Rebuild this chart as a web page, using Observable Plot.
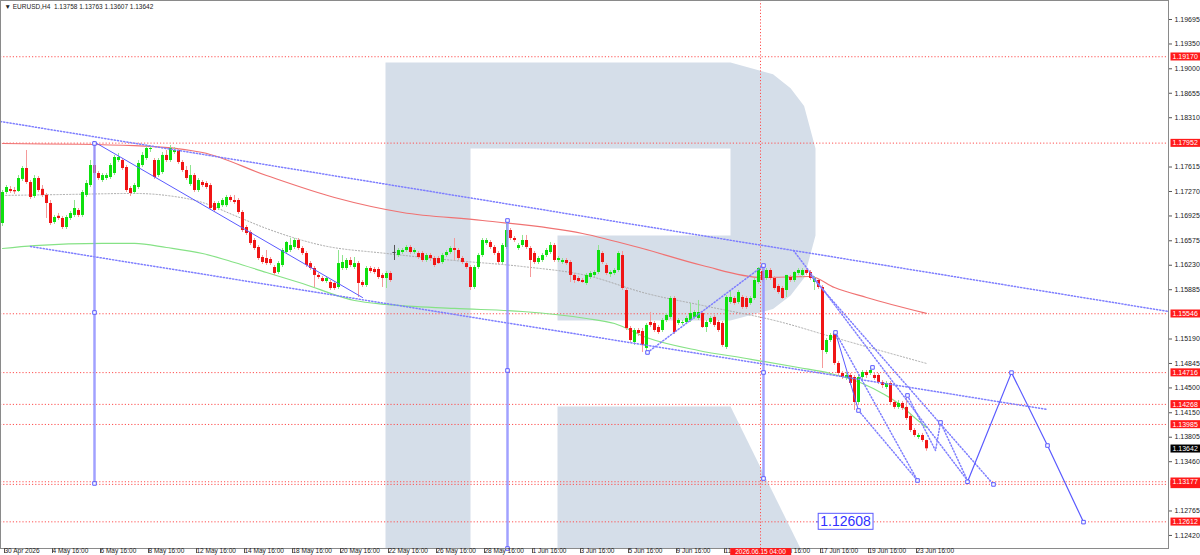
<!DOCTYPE html>
<html><head><meta charset="utf-8">
<script src="https://cdn.jsdelivr.net/npm/d3@7"></script>
<script src="https://cdn.jsdelivr.net/npm/@observablehq/plot@0.6"></script>
<style>
html,body{margin:0;padding:0;background:#fff;}
svg{display:block}
</style></head><body><div id="chart"></div>
<script>
// ---------- DATA ----------
const symbol = "EURUSD,H4";
// H4 candles [open, high, low, close], bar 0 = 30 Apr 2026 16:00
const candles = [
[1.16819,1.17284,1.16776,1.17256],[1.17256,1.17354,1.17228,1.17326],[1.17298,1.17340,1.17242,1.17270],[1.17284,1.17326,1.17228,1.17265],
[1.17270,1.17495,1.17256,1.17453],[1.17440,1.17622,1.17411,1.17594],[1.17594,1.17848,1.17369,1.17397],[1.17397,1.17425,1.17157,1.17185],
[1.17199,1.17495,1.17171,1.17453],[1.17453,1.17481,1.17256,1.17284],[1.17300,1.17354,1.17185,1.17214],[1.17214,1.17242,1.16889,1.17101],
[1.17101,1.17143,1.16790,1.16819],[1.16833,1.16932,1.16805,1.16903],[1.16920,1.16960,1.16861,1.16889],[1.16889,1.16917,1.16734,1.16762],
[1.16762,1.16932,1.16734,1.16903],[1.16889,1.16988,1.16861,1.16960],[1.16932,1.17143,1.16903,1.17030],[1.17002,1.17030,1.16903,1.16932],
[1.16932,1.17284,1.16903,1.17256],[1.17214,1.17425,1.17185,1.17383],[1.17354,1.17707,1.17326,1.17636],[1.17636,1.17975,1.17495,1.17524],
[1.17524,1.17552,1.17425,1.17453],[1.17425,1.17524,1.17397,1.17495],[1.17453,1.17524,1.17425,1.17495],[1.17467,1.17665,1.17439,1.17636],
[1.17524,1.17778,1.17495,1.17749],[1.17707,1.17806,1.17679,1.17749],[1.17707,1.17735,1.17566,1.17594],[1.17608,1.17636,1.17256,1.17284],
[1.17312,1.17340,1.17199,1.17242],[1.17256,1.17383,1.17228,1.17354],[1.17326,1.17707,1.17298,1.17665],[1.17636,1.17820,1.17608,1.17778],
[1.17735,1.17918,1.17707,1.17876],[1.17862,1.17904,1.17820,1.17876],[1.17707,1.17735,1.17439,1.17467],[1.17495,1.17735,1.17467,1.17707],
[1.17538,1.17820,1.17510,1.17778],[1.17778,1.17848,1.17679,1.17707],[1.17707,1.17918,1.17679,1.17876],[1.17820,1.17890,1.17792,1.17848],
[1.17848,1.17876,1.17651,1.17679],[1.17679,1.17707,1.17538,1.17566],[1.17566,1.17622,1.17425,1.17453],[1.17369,1.17636,1.17340,1.17495],
[1.17495,1.17524,1.17256,1.17284],[1.17284,1.17453,1.17256,1.17425],[1.17397,1.17425,1.17326,1.17354],[1.17383,1.17411,1.17298,1.17326],
[1.17354,1.17383,1.17002,1.17030],[1.17101,1.17129,1.16974,1.17002],[1.17030,1.17129,1.17002,1.17101],[1.17071,1.17171,1.17044,1.17143],
[1.17071,1.17214,1.17044,1.17185],[1.17185,1.17214,1.17115,1.17143],[1.17143,1.17214,1.17087,1.17115],[1.17143,1.17171,1.16946,1.16974],
[1.16974,1.17002,1.16692,1.16720],[1.16762,1.16790,1.16650,1.16678],[1.16692,1.16720,1.16509,1.16537],[1.16579,1.16607,1.16438,1.16466],
[1.16480,1.16508,1.16297,1.16325],[1.16339,1.16367,1.16240,1.16269],[1.16325,1.16438,1.16226,1.16254],[1.16311,1.16339,1.16226,1.16254],
[1.16198,1.16226,1.16085,1.16114],[1.16128,1.16283,1.16099,1.16254],[1.16226,1.16466,1.16198,1.16438],[1.16409,1.16565,1.16381,1.16551],
[1.16438,1.16607,1.16409,1.16508],[1.16480,1.16607,1.16452,1.16579],[1.16579,1.16607,1.16438,1.16466],[1.16466,1.16494,1.16367,1.16396],
[1.16396,1.16424,1.16198,1.16226],[1.16254,1.16283,1.16156,1.16184],[1.16184,1.16212,1.15916,1.16086],[1.16086,1.16114,1.16029,1.16057],
[1.16043,1.16071,1.15987,1.16001],[1.16001,1.16071,1.15973,1.16043],[1.15987,1.16015,1.15874,1.15902],[1.15973,1.16001,1.15874,1.15902],
[1.15916,1.16438,1.15888,1.16254],[1.16184,1.16367,1.16156,1.16269],[1.16184,1.16325,1.16156,1.16297],[1.16297,1.16339,1.16198,1.16226],
[1.16198,1.16339,1.16170,1.16254],[1.16254,1.16283,1.15775,1.15973],[1.15987,1.16015,1.15916,1.15944],[1.15944,1.16212,1.15916,1.16184],
[1.16184,1.16212,1.16113,1.16142],[1.16170,1.16198,1.16099,1.16128],[1.16170,1.16198,1.16029,1.16057],[1.16086,1.16114,1.15916,1.16043],
[1.16043,1.16142,1.15902,1.16114],[1.16114,1.16142,1.15987,1.16015],[1.16410,1.16509,1.16297,1.16410],[1.16367,1.16466,1.16339,1.16438],
[1.16410,1.16466,1.16381,1.16438],[1.16438,1.16508,1.16409,1.16480],[1.16480,1.16508,1.16381,1.16410],[1.16410,1.16466,1.16381,1.16438],
[1.16396,1.16424,1.16311,1.16339],[1.16396,1.16424,1.16269,1.16297],[1.16297,1.16396,1.16269,1.16367],[1.16367,1.16396,1.16283,1.16325],
[1.16325,1.16353,1.16198,1.16226],[1.16325,1.16353,1.16240,1.16254],[1.16269,1.16396,1.16240,1.16367],[1.16367,1.16438,1.16339,1.16410],
[1.16410,1.16494,1.16381,1.16466],[1.16466,1.16607,1.16297,1.16438],[1.16438,1.16466,1.16297,1.16325],[1.16325,1.16353,1.16240,1.16269],
[1.16254,1.16283,1.16170,1.16198],[1.16198,1.16226,1.15874,1.15916],[1.15916,1.16226,1.15888,1.16198],[1.16198,1.16396,1.16170,1.16367],
[1.16367,1.16607,1.16339,1.16579],[1.16537,1.16607,1.16508,1.16579],[1.16551,1.16579,1.16452,1.16480],[1.16480,1.16508,1.16367,1.16396],
[1.16396,1.16424,1.16240,1.16269],[1.16269,1.16537,1.16240,1.16508],[1.16480,1.16861,1.16452,1.16720],[1.16720,1.16748,1.16579,1.16607],
[1.16607,1.16635,1.16551,1.16579],[1.16466,1.16537,1.16438,1.16508],[1.16508,1.16650,1.16480,1.16579],[1.16579,1.16650,1.16452,1.16480],
[1.16466,1.16494,1.16057,1.16297],[1.16396,1.16424,1.16240,1.16269],[1.16269,1.16353,1.16240,1.16325],[1.16297,1.16396,1.16269,1.16367],
[1.16367,1.16466,1.16339,1.16438],[1.16410,1.16551,1.16381,1.16508],[1.16508,1.16537,1.16269,1.16297],[1.16297,1.16353,1.16269,1.16325],
[1.16269,1.16325,1.16240,1.16297],[1.16297,1.16325,1.16226,1.16254],[1.16269,1.16297,1.15987,1.16086],[1.16086,1.16114,1.15973,1.16015],
[1.16043,1.16071,1.15987,1.16001],[1.16015,1.16043,1.15973,1.15987],[1.15973,1.16114,1.15944,1.16086],[1.16057,1.16142,1.16029,1.16114],
[1.16086,1.16156,1.16057,1.16128],[1.16128,1.16508,1.16099,1.16438],[1.16396,1.16424,1.16240,1.16269],[1.16226,1.16254,1.16085,1.16114],
[1.16099,1.16156,1.16057,1.16128],[1.16114,1.16184,1.16085,1.16156],[1.16156,1.16424,1.16128,1.16396],[1.16367,1.16424,1.15874,1.15902],
[1.15874,1.15902,1.15310,1.15338],[1.15338,1.15366,1.15141,1.15169],[1.15141,1.15338,1.15099,1.15310],[1.15310,1.15338,1.15226,1.15268],
[1.15296,1.15338,1.15000,1.15099],[1.15057,1.15409,1.15000,1.15381],[1.15423,1.15564,1.15352,1.15381],[1.15409,1.15437,1.15282,1.15310],
[1.15352,1.15381,1.15254,1.15282],[1.15310,1.15479,1.15282,1.15451],[1.15451,1.15550,1.15423,1.15522],[1.15494,1.15789,1.15466,1.15761],
[1.15761,1.15789,1.15254,1.15282],[1.15409,1.15479,1.15381,1.15451],[1.15409,1.15451,1.15381,1.15423],[1.15423,1.15508,1.15395,1.15479],
[1.15451,1.15691,1.15423,1.15550],[1.15494,1.15592,1.15466,1.15564],[1.15479,1.15733,1.15451,1.15564],[1.15550,1.15578,1.15338,1.15352],
[1.15352,1.15451,1.15282,1.15423],[1.15423,1.15508,1.15395,1.15479],[1.15494,1.15522,1.15352,1.15381],[1.15423,1.15451,1.15282,1.15310],
[1.15409,1.15437,1.15071,1.15099],[1.15071,1.15803,1.15042,1.15775],[1.15705,1.15874,1.15677,1.15775],[1.15761,1.15789,1.15663,1.15691],
[1.15705,1.15874,1.15677,1.15846],[1.15775,1.15803,1.15607,1.15635],[1.15761,1.15789,1.15607,1.15635],[1.15691,1.15789,1.15663,1.15761],
[1.15761,1.16043,1.15733,1.16015],[1.15987,1.16198,1.15959,1.16184],[1.16142,1.16226,1.15987,1.16015],[1.16043,1.16184,1.16015,1.16156],
[1.16156,1.16184,1.16015,1.16043],[1.16043,1.16071,1.15874,1.15902],[1.15930,1.15959,1.15818,1.15846],[1.15902,1.15930,1.15747,1.15761],
[1.15874,1.16086,1.15775,1.16086],[1.16057,1.16085,1.15987,1.16015],[1.16015,1.16142,1.15987,1.16128],[1.16114,1.16184,1.16085,1.16156],
[1.16086,1.16184,1.16057,1.16156],[1.16156,1.16184,1.16085,1.16114],[1.16128,1.16156,1.16015,1.16043],[1.15987,1.16071,1.15874,1.16043],
[1.16015,1.16043,1.15888,1.15916],[1.15916,1.15944,1.14774,1.15028],[1.15000,1.15197,1.14972,1.15169],[1.15169,1.15268,1.15141,1.15240],
[1.15268,1.15282,1.14817,1.14845],[1.14845,1.14873,1.14675,1.14704],[1.14704,1.14732,1.14619,1.14647],[1.14633,1.14718,1.14605,1.14675],
[1.14675,1.14704,1.14534,1.14563],[1.14647,1.14675,1.14182,1.14295],[1.14295,1.14675,1.14267,1.14647],[1.14647,1.14746,1.14605,1.14718],
[1.14718,1.14746,1.14633,1.14675],[1.14704,1.14789,1.14675,1.14746],[1.14675,1.14704,1.14605,1.14633],[1.14675,1.14704,1.14548,1.14577],
[1.14577,1.14605,1.14492,1.14534],[1.14506,1.14591,1.14478,1.14563],[1.14563,1.14591,1.14267,1.14295],[1.14295,1.14323,1.14196,1.14225],
[1.14225,1.14323,1.14196,1.14281],[1.14281,1.14309,1.14182,1.14211],[1.14225,1.14394,1.14041,1.14069],[1.14097,1.14126,1.13872,1.13900],
[1.13900,1.13928,1.13801,1.13829],[1.13801,1.13858,1.13773,1.13829],[1.13829,1.13858,1.13731,1.13759],[1.13758,1.13763,1.13607,1.13642]
];
// time axis: bar index of each label and its text
const xTickBars = [0,12,24,36,48,60,72,84,96,108,120,132,144,156,168,180,192,204,216,228];
const xTickLabels = ["30 Apr 2026","4 May 16:00","6 May 16:00","8 May 16:00","12 May 16:00","14 May 16:00","18 May 16:00","20 May 16:00","22 May 16:00","26 May 16:00","28 May 16:00","1 Jun 16:00","3 Jun 16:00","5 Jun 16:00","9 Jun 16:00","11 Jun 16:00","15 Jun 16:00","17 Jun 16:00","19 Jun 16:00","23 Jun 16:00"];
// price axis
const yTicks = [1.19695,1.19350,1.19000,1.18655,1.18310,1.17615,1.17270,1.16925,1.16575,1.16230,1.15885,1.15190,1.14845,1.14500,1.14150,1.13805,1.13460,1.12765,1.12420];
// horizontal levels (red dotted); the 1.13140 label sits behind the 1.13177 one
const levels = [1.19170,1.17952,1.15546,1.14716,1.14268,1.13985,1.13140,1.13177,1.12612];
const hiddenLevel = 1.13140;
const currentPrice = 1.13642;
const crosshairBar = 189.5;
const crosshairLabel = "2026.06.15 04:00";
// moving averages [bar, price]
const maRed = [[0,1.17947],[33,1.17918],[50,1.17820],[66,1.17495],[83,1.17185],[100,1.16974],[120,1.16861],[145,1.16678],[160,1.16466],[175,1.16226],[190,1.16057],[202,1.16071],[208,1.15916],[216,1.15775],[231,1.15550]];
const maGreen = [[0,1.16466],[8,1.16508],[25,1.16537],[33,1.16537],[41,1.16480],[50,1.16396],[58,1.16269],[66,1.16128],[75,1.15973],[88,1.15733],[96,1.15677],[113,1.15621],[130,1.15578],[146,1.15479],[153,1.15409],[161,1.15211],[174,1.15028],[186,1.14915],[199,1.14788],[207,1.14704],[215,1.14563],[220,1.14422],[224,1.14280],[228,1.14083],[231,1.13942]];
const maGray = [[0,1.17214],[16,1.17228],[33,1.17242],[41,1.17214],[50,1.17115],[58,1.16932],[66,1.16748],[80,1.16509],[96,1.16396],[113,1.16297],[130,1.16212],[146,1.16086],[161,1.15832],[175,1.15663],[195,1.15423],[207,1.15226],[231,1.14845]];
// analysis objects [bar, price]
const verticals = [
  {bar:23, top:1.17947, bottom:1.13153},
  {bar:126.25, top:1.16861, bottom:1.12236},
  {bar:190.25, top:1.16226, bottom:1.13223}
];
const trendSolid = [[22.75,1.17975],[90,1.15775]];
const channelUpper = [[-0.5,1.18257],[291.5,1.15578]];
const channelLower = [[7,1.16494],[261.25,1.14196]];
const risingDotted = [[161.25,1.15000],[190.25,1.16226]];
const fanLines = [
  [[197.75,1.16438],[241.25,1.13195]],
  [[202,1.16086],[247.75,1.13139]],
  [[208.25,1.15282],[228.75,1.13195]],
  [[214,1.14182],[228.75,1.13195]],
  [[226.25,1.14394],[233.25,1.13618],[234.5,1.14013],[241.25,1.13195]]
];
const waveSolid = [[208.25,1.15282],[214,1.14182]];
const forecast = [[241.25,1.13177],[252.25,1.14716],[261.25,1.13688],[270.25,1.12608]];
const markers = [[23,1.17947],[23,1.15564],[23,1.13153],[126.25,1.16861],[126.25,1.14746],[126.25,1.12236],
  [190.25,1.16226],[190.25,1.14718],[190.25,1.13223],[161.25,1.15000],[208.25,1.15282],[214,1.14182],[217.5,1.14789],
  [226.25,1.14394],[234.5,1.14013],[228.75,1.13195],[247.75,1.13139],
  [241.25,1.13177],[252.25,1.14716],[261.25,1.13688],[270.25,1.12608]];
const target = {bar:210.75, price:1.12612, text:"1.12608"};
// broker watermark outline [bar, price]
const logoOutline = [[95.75,1.19089],[182,1.19089],[192.625,1.18924],[197.025,1.18724],[200.4,1.18475],[203.25,1.17876],
  [203.25,1.16650],[200.4,1.16050],[197.025,1.15802],[192.625,1.15612],[182,1.15451],[138.75,1.15451],[138.75,1.16650],
  [182,1.16650],[182,1.17876],[117,1.17876],[117,1.12236],[95.75,1.12236]];
const logoLeg = [[138.75,1.14238],[182,1.14238],[199.5,1.12236],[138.75,1.12236]];

// ---------- CHART ----------
const bars = candles.map((c,i)=>({i, o:c[0], h:c[1], l:c[2], c:c[3]}));
const up = d => d.c > d.o, down = d => d.c < d.o;
const last = candles[candles.length-1];
const fmt5 = d3.format(".5f");
const title = "\u25BC " + symbol + "  " + last.map(fmt5).join(" ");
const BLUE = "#5a5aff", DOT = "#7e7eff";
const P = d=>d[0], Q = d=>d[1];
const DASH = "1.2,2";
const FS = 7;

const chart = Plot.plot({
  width: 1200, height: 555,
  marginLeft: 0, marginRight: 32, marginTop: 0, marginBottom: 7,
  x: {domain: [-0.5, 291.5], axis: null},
  y: {domain: [1.12236, 1.19963], axis: null},
  style: {fontFamily: "'Liberation Sans', Arial, sans-serif", fontSize: "7px", background: "white", color: "#222"},
  marks: [
    Plot.line(logoOutline, {x: P, y: Q, fill: "#d5dee9", stroke: "none"}),
    Plot.line(logoLeg, {x: P, y: Q, fill: "#d5dee9", stroke: "none"}),
    Plot.ruleY(levels, {stroke: "#ff5050", strokeDasharray: DASH, strokeWidth: 1}),
    Plot.ruleX([crosshairBar], {stroke: "#ff5050", strokeDasharray: DASH, strokeWidth: 1}),
    Plot.line(maRed, {x: P, y: Q, stroke: "#f07272", strokeWidth: 1.2, curve: "monotone-x"}),
    Plot.line(maGreen, {x: P, y: Q, stroke: "#86e286", strokeWidth: 1.2, curve: "monotone-x"}),
    Plot.line(maGray, {x: P, y: Q, stroke: "#a9a9a9", strokeWidth: 1, strokeDasharray: DASH, curve: "monotone-x"}),
    // candles
    Plot.ruleX(bars.filter(up), {x: "i", y1: "l", y2: "h", stroke: "#8fe48f", strokeWidth: 1}),
    Plot.ruleX(bars.filter(down), {x: "i", y1: "l", y2: "h", stroke: "#f59a9a", strokeWidth: 1}),
    Plot.ruleX(bars.filter(d => d.c === d.o), {x: "i", y1: "l", y2: "h", stroke: "#555", strokeWidth: 1}),
    Plot.ruleX(bars.filter(up), {x: "i", y1: "o", y2: "c", stroke: "#0ee00e", strokeWidth: 3}),
    Plot.ruleX(bars.filter(down), {x: "i", y1: "o", y2: "c", stroke: "#f01515", strokeWidth: 3}),
    Plot.ruleY(bars.filter(d => d.c === d.o), {y: "o", x1: d => d.i - 0.4, x2: d => d.i + 0.4, stroke: "#444", strokeWidth: 1}),
    // analysis objects
    Plot.line(channelUpper, {x: P, y: Q, stroke: DOT, strokeDasharray: DASH}),
    Plot.line(channelLower, {x: P, y: Q, stroke: DOT, strokeDasharray: DASH}),
    Plot.line(risingDotted, {x: P, y: Q, stroke: DOT, strokeDasharray: DASH}),
    ...fanLines.map(f => Plot.line(f, {x: P, y: Q, stroke: DOT, strokeDasharray: DASH})),
    Plot.ruleX(verticals, {x: "bar", y1: "bottom", y2: "top", stroke: "#9090ff", strokeWidth: 2.5, strokeOpacity: 0.85}),
    Plot.line(trendSolid, {x: P, y: Q, stroke: BLUE, strokeWidth: 1}),
    Plot.line(waveSolid, {x: P, y: Q, stroke: BLUE, strokeWidth: 1}),
    Plot.line(forecast, {x: P, y: Q, stroke: BLUE, strokeWidth: 1.2}),
    Plot.dot(markers, {x: P, y: Q, symbol: "square", r: 2, stroke: BLUE, fill: "white", strokeWidth: 1}),
    // frame & axes
    Plot.frame({stroke: "#8a8a8a"}),
    Plot.axisY({anchor: "right", ticks: yTicks, tickFormat: fmt5, tickSize: 3, tickPadding: 3, fontSize: FS, stroke: "#555"}),
    Plot.axisX({ticks: xTickBars, tickFormat: d => xTickLabels[xTickBars.indexOf(d)], tickSize: 5, tickPadding: -5, textAnchor: "start", dx: 2, fontSize: 6.5, stroke: "#555"}),
    // labels
    Plot.text([title], {frameAnchor: "top-left", dx: 4, dy: 4, lineAnchor: "top", fontSize: 6.5, fill: "#222"}),
    Plot.text(levels, {y: d => d, text: d => fmt5(d), frameAnchor: "right", textAnchor: "start", dx: 4, fill: "white", fontSize: FS, ariaDescription: "lvl-label"}),
    Plot.text([currentPrice], {y: d => d, text: d => fmt5(d), frameAnchor: "right", textAnchor: "start", dx: 4, fill: "white", fontSize: FS, ariaDescription: "cur-label"}),
    Plot.text([crosshairBar], {x: d => d, text: () => crosshairLabel, frameAnchor: "bottom", lineAnchor: "middle", dy: 3.5, fill: "white", fontSize: 6.5, ariaDescription: "xh-label"}),
    Plot.ruleY([target.price], {x1: target.bar - 7.2, x2: target.bar - 6.2, stroke: BLUE}),
    Plot.text([target], {x: "bar", y: "price", text: "text", fontSize: 14, fill: "#2f2fff", ariaDescription: "target-label"})
  ]
});
document.getElementById("chart").appendChild(chart);

function boxBehind(desc, fill, stroke, padL, padR, padY, dropText) {
  chart.querySelectorAll('g[aria-description="' + desc + '"] text').forEach(t => {
    const b = t.getBBox();
    const r = document.createElementNS("http://www.w3.org/2000/svg", "rect");
    r.setAttribute("x", b.x - padL);
    r.setAttribute("y", b.y - padY);
    r.setAttribute("width", b.width + padL + padR);
    r.setAttribute("height", b.height + 2 * padY);
    r.setAttribute("fill", fill);
    if (stroke) r.setAttribute("stroke", stroke);
    const tr = t.getAttribute("transform");
    if (tr) r.setAttribute("transform", tr);
    t.parentNode.insertBefore(r, t);
    if (dropText && dropText(t)) t.remove();
  });
}
boxBehind("lvl-label", "#ff1a1a", null, 2, 3, 0.5, t => t.textContent === fmt5(hiddenLevel));
boxBehind("cur-label", "#000000", null, 2, 3, 0.5);
boxBehind("xh-label", "#ff1a1a", null, 5, 5, 0);
boxBehind("target-label", "#ffffff", "#5a5aff", 2, 2, 0);
</script></body></html>
